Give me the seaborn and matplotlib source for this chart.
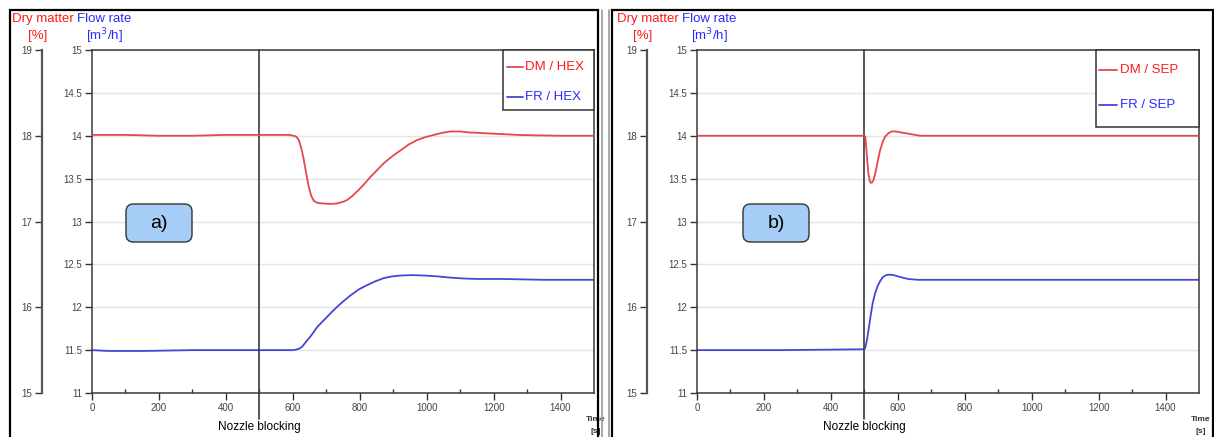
import matplotlib
matplotlib.use("Agg")
import matplotlib.pyplot as plt
import seaborn as sns
import pandas as pd
from matplotlib.lines import Line2D
from matplotlib.patches import Rectangle, FancyBboxPatch

# ---------------- data ----------------
# Panel a) heat exchanger (HEX)
hex_t_dm = [0, 100, 200, 300, 400, 500, 590, 602, 610, 618, 625, 632, 640, 648, 655, 663, 675,
            692, 712, 732, 750, 762, 777, 792, 812, 832, 852, 872, 897, 922, 947, 972, 997,
            1022, 1047, 1072, 1100, 1122, 1172, 1222, 1270, 1321, 1400, 1500]
hex_dm = [18.01, 18.01, 18.0, 18.0, 18.01, 18.01, 18.01, 18.0, 17.99, 17.95, 17.86, 17.74, 17.56,
          17.4, 17.3, 17.24, 17.215, 17.21, 17.205, 17.21, 17.23, 17.25, 17.295, 17.35, 17.43,
          17.52, 17.6, 17.68, 17.76, 17.83, 17.9, 17.95, 17.985, 18.01, 18.035, 18.05, 18.05,
          18.04, 18.03, 18.02, 18.01, 18.005, 18.0, 18.0]
hex_t_fr = [0, 50, 150, 300, 450, 500, 600, 608, 618, 628, 640, 653, 673, 698, 723, 748, 773,
            798, 823, 848, 872, 897, 922, 957, 992, 1032, 1072, 1112, 1152, 1222, 1350, 1500]
hex_fr = [11.5, 11.49, 11.49, 11.5, 11.5, 11.5, 11.5, 11.505, 11.515, 11.54, 11.6, 11.66, 11.77,
          11.87, 11.97, 12.06, 12.14, 12.21, 12.26, 12.305, 12.34, 12.36, 12.37, 12.375, 12.37,
          12.36, 12.345, 12.335, 12.33, 12.33, 12.32, 12.32]

# Panel b) separator (SEP)
sep_t_dm = [0, 250, 500, 503, 507, 512, 516, 519, 523, 527, 532, 537, 542, 547, 555, 562, 572,
            582, 595, 607, 622, 637, 652, 666, 800, 1500]
sep_dm = [18.0, 18.0, 18.0, 17.99, 17.80, 17.56, 17.48, 17.45, 17.455, 17.48, 17.55, 17.64,
          17.74, 17.83, 17.93, 17.99, 18.03, 18.05, 18.05, 18.04, 18.03, 18.02, 18.01, 18.0,
          18.0, 18.0]
sep_t_fr = [0, 250, 500, 503, 508, 515, 520, 525, 532, 540, 548, 555, 565, 575, 588, 600, 615,
            630, 660, 700, 1000, 1500]
sep_fr = [11.5, 11.5, 11.51, 11.53, 11.62, 11.8, 11.93, 12.05, 12.16, 12.25, 12.31, 12.35,
          12.375, 12.38, 12.375, 12.36, 12.345, 12.33, 12.32, 12.32, 12.32, 12.32]

dm_labels = ["DM / HEX", "DM / SEP"]
fr_labels = ["FR / HEX", "FR / SEP"]
panel_tags = ["a)", "b)"]
flow_ticks = [11, 11.5, 12, 12.5, 13, 13.5, 14, 14.5, 15]
flow_ticklabels = ["11", "11.5", "12", "12.5", "13", "13.5", "14", "14.5", "15"]
dm_ticks = [15, 16, 17, 18, 19]
x_ticks = [0, 200, 400, 600, 800, 1000, 1200, 1400]
event_time = 500

panels = [
    (hex_t_dm, hex_dm, hex_t_fr, hex_fr),
    (sep_t_dm, sep_dm, sep_t_fr, sep_fr),
]

# ---------------- style ----------------
sns.set_theme(style="white")
plt.rcParams['font.family'] = ['Liberation Sans', 'DejaVu Sans']

RED_LINE = "#e5484c"
BLUE_LINE = "#4646d8"
RED_TXT = "#ff1a1a"
BLUE_TXT = "#2a2aff"
TICK_C = "#333333"

W, H = 1214, 437
fig = plt.figure(figsize=(W / 100, H / 100), dpi=100)

def fx(px):
    return px / W

def fy(py):
    return 1 - py / H

# panel frames (bottom edge runs off the picture)
fig.patches.append(Rectangle((fx(10), fy(460)), fx(588), 450 / H, transform=fig.transFigure,
                             fill=False, edgecolor="black", lw=1.6, zorder=0))
fig.patches.append(Rectangle((fx(612), fy(460)), fx(601), 450 / H, transform=fig.transFigure,
                             fill=False, edgecolor="black", lw=1.6, zorder=0))
fig.add_artist(Line2D([fx(602), fx(602)], [0, fy(10)], transform=fig.transFigure,
                      color="#9a9a9a", lw=1.2))
fig.add_artist(Line2D([fx(609), fx(609)], [0, fy(10)], transform=fig.transFigure,
                      color="#9a9a9a", lw=1.2))

ax_lefts = [92, 697]
# legend geometry in pixels: box left, box bottom, handle x0/x1, text x, entry rows
legend_geo = [dict(left=503, bottom=110, h0=507, h1=523, tx=525, rows=(67, 97)),
              dict(left=1096, bottom=127, h0=1099, h1=1117, tx=1120, rows=(70, 105))]
tag_centers_px = [(159, 223), (776, 223)]

for i, (t_dm, dm, t_fr, fr) in enumerate(panels):
    x0 = ax_lefts[i]
    ax = fig.add_axes([fx(x0), fy(393), 502 / W, 343 / H])
    ax2 = ax.twinx()

    df_fr = pd.DataFrame({"t": t_fr, "v": fr})
    df_dm = pd.DataFrame({"t": t_dm, "v": dm})
    sns.lineplot(data=df_fr, x="t", y="v", ax=ax, color=BLUE_LINE, lw=1.3, legend=False)
    sns.lineplot(data=df_dm, x="t", y="v", ax=ax2, color=RED_LINE, lw=1.3, legend=False)

    ax.set_xlim(0, 1500)
    ax.set_ylim(11, 15)
    ax2.set_ylim(15, 19)
    ax.set_xlabel("")
    ax.set_ylabel("")
    ax2.set_ylabel("")

    ax.set_yticks(flow_ticks)
    ax.set_yticklabels(flow_ticklabels)
    ax.set_xticks(x_ticks)
    ax.set_xticks(list(range(100, 1500, 200)), minor=True)
    ax.yaxis.grid(True, color="#e4e4e4", lw=1.0)
    ax.xaxis.grid(False)
    ax.tick_params(axis="both", which="major", direction="out", length=5, width=1,
                   color=TICK_C, labelsize=7, labelcolor="#444444", pad=2,
                   left=True, bottom=True)
    ax.tick_params(axis="x", which="minor", direction="in", length=3, width=1, color=TICK_C,
                   bottom=True)
    for s in ax.spines.values():
        s.set_color("#3a3a3a")
        s.set_linewidth(1.1)

    # dry matter axis on the left, offset outward
    ax2.yaxis.set_ticks_position("left")
    ax2.yaxis.set_label_position("left")
    ax2.spines["left"].set_position(("outward", 36))
    ax2.spines["left"].set_visible(True)
    ax2.spines["left"].set_color("#555555")
    ax2.spines["left"].set_linewidth(1.6)
    ax2.spines["right"].set_visible(False)
    ax2.spines["top"].set_visible(False)
    ax2.spines["bottom"].set_visible(False)
    ax2.set_yticks(dm_ticks)
    ax2.tick_params(axis="y", direction="out", length=5, width=1, color=TICK_C, labelsize=7,
                    labelcolor="#444444", pad=2, left=True, right=False)

    # event line
    ax.axvline(event_time, ymin=-0.075, ymax=1, color="#3a3a3a", lw=1.2, clip_on=False,
               zorder=5)
    ax.text(event_time, -0.1, "Nozzle blocking", transform=ax.get_xaxis_transform(),
            ha="center", va="center", fontsize=8.5, color="black")
    ax.text(1.003, -0.078, "Time", transform=ax.transAxes, ha="center", va="center",
            fontsize=6, color="#333333", fontweight="bold")
    ax.text(1.003, -0.113, "[s]", transform=ax.transAxes, ha="center", va="center",
            fontsize=6, color="#333333", fontweight="bold")

    # panel tag box
    cxp, cyp = tag_centers_px[i]
    cx = (cxp - x0) / 502
    cy = (393 - cyp) / 343
    bw, bh = 62 / 502, 34 / 343
    box = FancyBboxPatch((cx - bw / 2, cy - bh / 2), bw, bh, transform=ax.transAxes,
                         boxstyle="round,pad=0.004,rounding_size=0.015",
                         mutation_aspect=502 / 343,
                         fc="#a6cdf5", ec="#333333", lw=1.0, zorder=6)
    ax.add_patch(box)
    ax.text(cx, cy, panel_tags[i], transform=ax.transAxes, ha="center", va="center",
            fontsize=14, color="black", zorder=7)

    # axis titles
    fig.text(fx(x0 - 80), fy(19), "Dry matter", color=RED_TXT, fontsize=9.5, ha="left",
             va="center")
    fig.text(fx(x0 - 54), fy(36), "[%]", color=RED_TXT, fontsize=9.5, ha="center",
             va="center")
    fig.text(fx(x0 - 15), fy(19), "Flow rate", color=BLUE_TXT, fontsize=9.5, ha="left",
             va="center")
    fig.text(fx(x0 + 12), fy(36), "[m$^3$/h]", color=BLUE_TXT, fontsize=9.5, ha="center",
             va="center")

    # legend box drawn in axes coordinates
    g = legend_geo[i]
    def ax_x(px):
        return (px - x0) / 502
    def ax_y(py):
        return (393 - py) / 343
    lx = ax_x(g["left"])
    ly = ax_y(g["bottom"])
    ax2.add_patch(Rectangle((lx, ly), 1.0 - lx, 1.0 - ly, transform=ax2.transAxes,
                            fc="white", ec="#333333", lw=1.1, zorder=10, clip_on=False))
    for lab, lc, tc, row in [(dm_labels[i], RED_LINE, RED_TXT, g["rows"][0]),
                             (fr_labels[i], BLUE_LINE, BLUE_TXT, g["rows"][1])]:
        ax2.add_line(Line2D([ax_x(g["h0"]), ax_x(g["h1"])], [ax_y(row), ax_y(row)],
                            transform=ax2.transAxes, color=lc, lw=1.3, zorder=11))
        ax2.text(ax_x(g["tx"]), ax_y(row), lab, transform=ax2.transAxes, ha="left",
                 va="center", fontsize=9.5, color=tc, zorder=11)

fig.savefig("out.png", dpi=100)
